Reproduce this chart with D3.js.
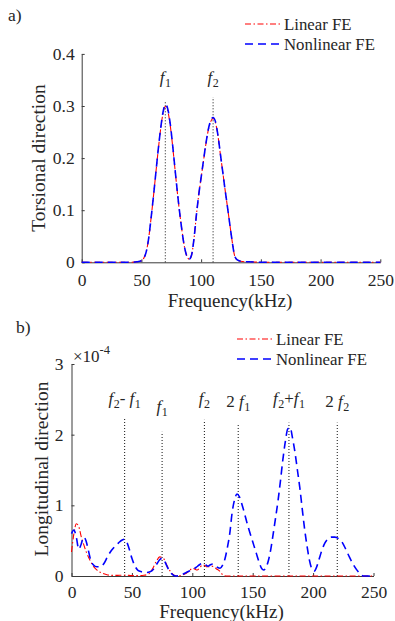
<!DOCTYPE html>
<html>
<head>
<meta charset="utf-8">
<script src="https://cdn.jsdelivr.net/npm/d3@7/dist/d3.min.js"></script>
<style>
  body { margin: 0; background: #fff; }
  svg, svg text { font-family: "Liberation Serif", "DejaVu Serif", "Times New Roman", Times, serif; }
</style>
</head>
<body>
<script>
// 1. DATA -------------------------------------------------------------------------

const seriesNames = ["Linear FE", "Nonlinear FE"];
const freqTicks = [0, 50, 100, 150, 200, 250];

// a) torsional direction
const torsionFreq = [0, 10, 20, 30, 40, 46, 50, 52, 54, 56, 58, 60, 62, 64, 66, 68, 70, 72, 74, 76, 78, 80,
  82, 84, 86, 88, 90, 92, 94, 96, 98, 100, 102, 104, 106, 108, 110, 112, 114, 116, 118, 120, 122, 124,
  126, 128, 130, 133, 137, 140, 150, 175, 200, 225, 250];
const torsionLinear = [0, 0, 0, 0, 0, 0.001, 0.003, 0.008, 0.02, 0.045, 0.083, 0.125, 0.17, 0.214, 0.254, 0.285,
  0.299, 0.291, 0.265, 0.226, 0.181, 0.136, 0.095, 0.06, 0.03, 0.012, 0.006, 0.014, 0.045, 0.09, 0.13, 0.163,
  0.195, 0.227, 0.254, 0.27, 0.276, 0.268, 0.244, 0.209, 0.175, 0.14, 0.107, 0.073, 0.04, 0.013, 0.005,
  0.002, 0.001, 0.001, 0, 0, 0, 0, 0];
const torsionNonlinear = [0, 0, 0, 0, 0, 0.001, 0.003, 0.008, 0.02, 0.045, 0.083, 0.125, 0.17, 0.215, 0.255, 0.287,
  0.303, 0.295, 0.268, 0.228, 0.182, 0.137, 0.096, 0.06, 0.03, 0.012, 0.006, 0.014, 0.045, 0.09, 0.13, 0.163,
  0.196, 0.228, 0.255, 0.272, 0.278, 0.27, 0.245, 0.21, 0.175, 0.14, 0.107, 0.073, 0.04, 0.013, 0.005,
  0.002, 0.001, 0.001, 0, 0, 0, 0, 0];
const torsionTicks = [0, 0.1, 0.2, 0.3, 0.4];
const torsionMarks = ["f_1", "f_2"];
const torsionMarkFreq = [70, 110];
const torsionMarkTop = [0.31, 0.317];
const torsionMarkLabel = [0.344, 0.344];

// b) longitudinal direction (x 1e-4)
const longLinearFreq = [0, 2, 4, 6, 8, 10, 12, 14, 16, 18, 20, 23, 26, 30, 35, 40, 45, 50, 55, 60, 64, 67, 70,
  73, 76, 79, 82, 85, 88, 92, 95, 98, 100, 102, 104, 106, 108, 110, 112, 114, 116, 118, 120, 122, 124,
  126, 128, 140, 160, 180, 200, 220, 250];
const longLinear = [0.34, 0.6, 0.74, 0.7, 0.56, 0.45, 0.35, 0.27, 0.2, 0.14, 0.1, 0.06, 0.035, 0.015, 0.008,
  0.01, 0.012, 0.005, 0.005, 0.01, 0.03, 0.1, 0.2, 0.27, 0.25, 0.15, 0.06, 0.01, 0, 0.015, 0.04, 0.08, 0.11,
  0.1, 0.085, 0.11, 0.15, 0.15, 0.13, 0.13, 0.14, 0.13, 0.1, 0.08, 0.04, 0.005, 0, 0, 0, 0, 0, 0, 0];
const longNonlinearFreq = [0, 2, 4, 6, 8, 10, 12, 14, 16, 18, 21, 24, 27, 30, 33, 36, 39, 42, 44, 46, 48, 50,
  52, 55, 58, 62, 65, 68, 71, 73, 75, 77, 79, 81, 83, 86, 90, 95, 100, 103, 106, 109, 111, 113, 115, 117,
  119, 121, 123, 125, 127, 129, 131, 133, 135, 137, 139, 141, 143, 145, 147, 149, 151, 153, 155, 157, 159,
  161, 163, 165, 167, 169, 171, 173, 175, 177, 179, 181, 183, 185, 187, 189, 191, 193, 195, 197, 199, 201,
  203, 205, 207, 209, 212, 215, 218, 221, 224, 227, 230, 233, 236, 239, 242, 250];
const longNonlinear = [0.6, 0.65, 0.55, 0.38, 0.45, 0.55, 0.5, 0.36, 0.22, 0.16, 0.13, 0.13, 0.18, 0.28, 0.36,
  0.42, 0.47, 0.51, 0.52, 0.47, 0.37, 0.25, 0.16, 0.08, 0.06, 0.05, 0.06, 0.1, 0.18, 0.23, 0.25, 0.21, 0.14,
  0.07, 0.03, 0, 0.01, 0.05, 0.09, 0.12, 0.16, 0.18, 0.16, 0.14, 0.16, 0.17, 0.15, 0.12, 0.11, 0.15, 0.24,
  0.4, 0.6, 0.9, 1.08, 1.16, 1.12, 1.02, 0.9, 0.77, 0.65, 0.54, 0.43, 0.32, 0.21, 0.12, 0.085, 0.12, 0.22,
  0.38, 0.6, 0.83, 1.07, 1.35, 1.65, 1.9, 2.08, 2.1, 1.95, 1.75, 1.5, 1.25, 0.95, 0.66, 0.42, 0.22, 0.1,
  0.07, 0.13, 0.24, 0.35, 0.44, 0.52, 0.55, 0.55, 0.53, 0.48, 0.38, 0.27, 0.17, 0.09, 0.03, 0, 0];
const longTicks = [0, 1, 2, 3];
const longMarks = ["f_2- f_1", "f_1", "f_2", "2 f_1", "f_2+f_1", "2 f_2"];
const longMarkFreq = [44, 75, 110, 138, 180, 220];
const longMarkTop = [2.25, 2.04, 2.21, 2.14, 2.17, 2.17];
const longMarkLabel = [2.43, 2.32, 2.43, 2.39, 2.43, 2.39];

// 2. SETUP -------------------------------------------------------------------------

const width = 395,
      height = 621,
      fontFamily = "'Liberation Serif', 'DejaVu Serif', 'Times New Roman', Times, serif",
      textColor = "#262626",
      axisColor = "#3a3a3a",
      seriesColor = ["#ff0000", "#0000ff"],
      seriesDash = ["6,2.5,1.5,2.5", "8,5"],
      seriesWidth = [1.1, 1.6];

const svg = d3.select("body")
  .append("svg")
  .attr("width", width)
  .attr("height", height)
  .attr("font-family", fontFamily);

// builds "f_2+f_1" style labels: italic f with a subscript number
const writeMark = (text, label) => {
  let shifted = false;
  label.match(/f_\d|[^f]+/g).forEach(part => {
    if (part.startsWith("f_")) {
      text.append("tspan").attr("font-style", "italic").attr("dy", shifted ? -4 : 0).text("f");
      text.append("tspan").attr("font-size", 12).attr("dy", 4).attr("dx", 0.5).text(part.slice(2));
      shifted = true;
    } else {
      text.append("tspan").attr("dy", shifted ? -4 : 0).text(part);
      shifted = false;
    }
  });
};

function drawPanel(p) {
  const x = d3.scaleLinear().domain([0, 250]).range(p.xRange);
  const y = d3.scaleLinear().domain(p.yDomain).range(p.yRange);
  const g = svg.append("g");

  // axes (only left + bottom, ticks pointing in)
  const xAxis = g.append("g")
    .attr("transform", `translate(0,${p.yRange[0]})`)
    .call(d3.axisBottom(x).tickValues(freqTicks).tickSizeInner(-3).tickSizeOuter(0).tickPadding(p.xPad));
  const yAxis = g.append("g")
    .attr("transform", `translate(${p.xRange[0]},0)`)
    .call(d3.axisLeft(y).tickValues(p.yTicks).tickFormat(p.yFormat).tickSizeInner(-3).tickSizeOuter(0).tickPadding(p.yPad));
  [xAxis, yAxis].forEach(a => {
    a.attr("font-family", fontFamily).attr("font-size", 17.5);
    a.selectAll("path, line").attr("stroke", axisColor);
    a.selectAll("text").attr("fill", textColor);
  });

  // harmonic markers
  g.selectAll(".mark")
    .data(p.markFreq)
    .enter()
    .append("line")
    .attr("x1", d => x(d)).attr("x2", d => x(d))
    .attr("y1", p.yRange[0])
    .attr("y2", (d, i) => y(p.markTop[i]))
    .attr("stroke", "#111")
    .attr("stroke-width", 1)
    .attr("stroke-dasharray", "1,2");

  p.marks.forEach((m, i) => {
    const t = g.append("text")
      .attr("x", x(p.markFreq[i]))
      .attr("y", y(p.markLabel[i]))
      .attr("text-anchor", "middle")
      .attr("font-size", 17)
      .attr("fill", textColor);
    writeMark(t, m);
  });

  // data lines
  const line = d3.line()
    .x(d => x(d[0]))
    .y(d => y(d[1]))
    .curve(d3.curveMonotoneX);

  p.series.forEach((s, i) => {
    g.append("path")
      .datum(d3.zip(s.freq, s.values))
      .attr("fill", "none")
      .attr("stroke", seriesColor[i])
      .attr("stroke-width", seriesWidth[i])
      .attr("stroke-dasharray", seriesDash[i])
      .attr("d", line);
  });

  // legend
  seriesNames.forEach((name, i) => {
    const ly = p.legend[1] + i * 20;
    g.append("line")
      .attr("x1", p.legend[0]).attr("x2", p.legend[0] + 37)
      .attr("y1", ly).attr("y2", ly)
      .attr("stroke", seriesColor[i])
      .attr("stroke-width", seriesWidth[i])
      .attr("stroke-dasharray", seriesDash[i]);
    g.append("text")
      .attr("x", p.legend[0] + 39)
      .attr("y", ly + 6)
      .attr("font-size", 16.8)
      .attr("fill", textColor)
      .text(name);
  });

  // axis titles + panel letter
  g.append("text")
    .attr("x", (p.xRange[0] + p.xRange[1]) / 2 - 1)
    .attr("y", p.xTitleY)
    .attr("text-anchor", "middle")
    .attr("font-size", 19)
    .attr("fill", textColor)
    .text("Frequency(kHz)");
  g.append("text")
    .attr("transform", `translate(${p.yTitle[0]},${p.yTitle[1]}) rotate(-90)`)
    .attr("text-anchor", "middle")
    .attr("font-size", 19.5)
    .attr("fill", textColor)
    .text(p.yTitleText);
  g.append("text")
    .attr("x", p.letter[0]).attr("y", p.letter[1])
    .attr("font-size", 17.5)
    .attr("fill", textColor)
    .text(p.letterText);

  return { x, y, g };
}

// 3. PANELS -------------------------------------------------------------------------

drawPanel({
  xRange: [81.7, 380.3],
  yDomain: [0, 0.4],
  yRange: [262.3, 53.9],
  yTicks: torsionTicks,
  yFormat: d => d === 0 ? "0" : d3.format(".1f")(d),
  xPad: 11, yPad: 7,
  marks: torsionMarks, markFreq: torsionMarkFreq, markTop: torsionMarkTop, markLabel: torsionMarkLabel,
  series: [
    { freq: torsionFreq, values: torsionLinear },
    { freq: torsionFreq, values: torsionNonlinear }
  ],
  legend: [245, 24],
  xTitleY: 307,
  yTitle: [45, 158],
  yTitleText: "Torsional direction",
  letter: [8, 21], letterText: "a)"
});

const b = drawPanel({
  xRange: [71.5, 373.5],
  yDomain: [0, 3],
  yRange: [576, 364],
  yTicks: longTicks,
  yFormat: d3.format("d"),
  xPad: 10, yPad: 8,
  marks: longMarks, markFreq: longMarkFreq, markTop: longMarkTop, markLabel: longMarkLabel,
  series: [
    { freq: longLinearFreq, values: longLinear },
    { freq: longNonlinearFreq, values: longNonlinear }
  ],
  legend: [237, 339],
  xTitleY: 617.5,
  yTitle: [47.5, 469],
  yTitleText: "Longitudinal direction",
  letter: [16, 333], letterText: "b)"
});

// exponent label
const expo = b.g.append("text")
  .attr("x", 73).attr("y", 362)
  .attr("font-size", 17)
  .attr("fill", textColor);
expo.append("tspan").text("\u00d710");
expo.append("tspan").attr("font-size", 12.5).attr("dy", -8).text("-4");
</script>
</body>
</html>
